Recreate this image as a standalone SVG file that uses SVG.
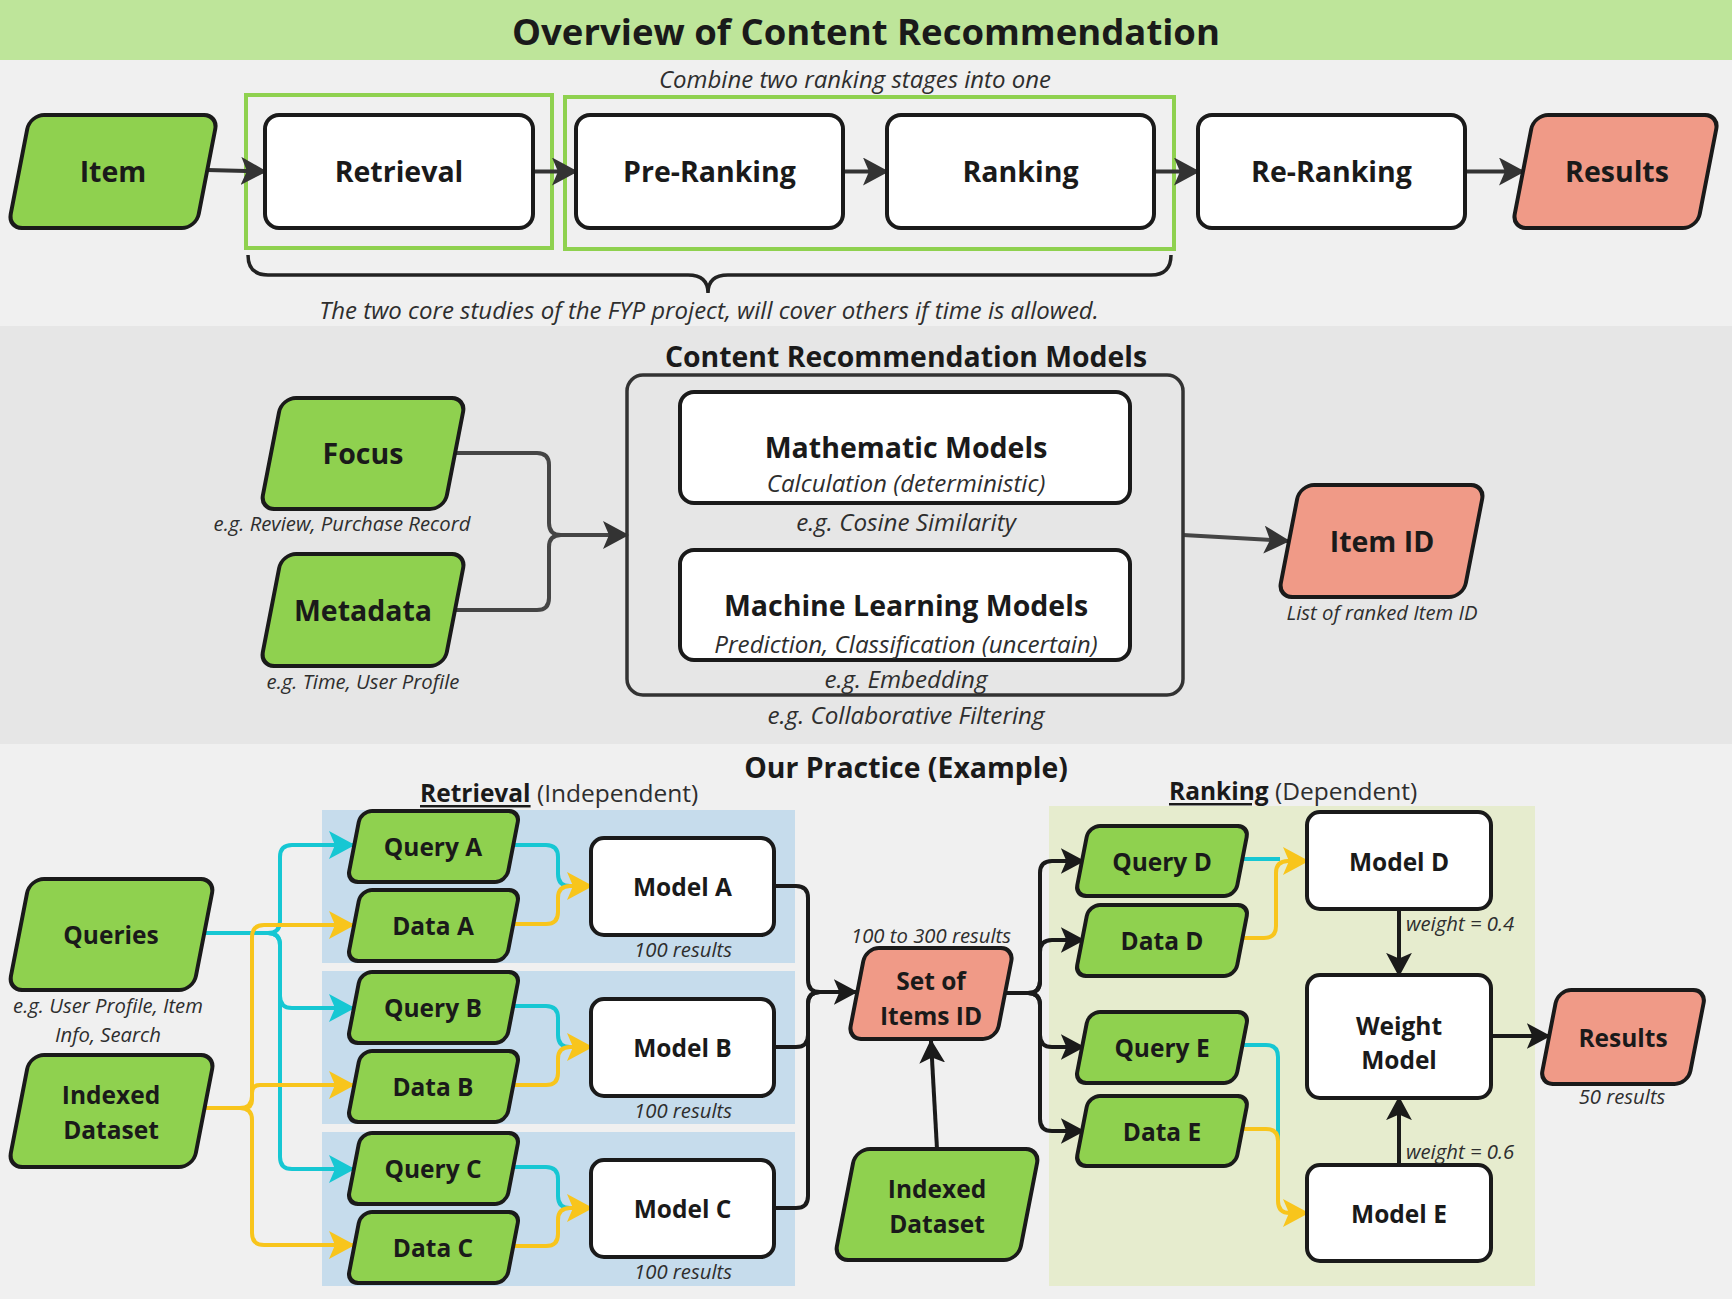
<svg xmlns="http://www.w3.org/2000/svg" width="1732" height="1299" viewBox="0 0 1732 1299">
<defs>
<style>
.b{font-family:"Open Sans","Liberation Sans",sans-serif;font-weight:700;fill:#1a1a1a;text-anchor:middle;dominant-baseline:central}
.i{font-family:"Open Sans","Liberation Sans",sans-serif;font-style:italic;fill:#2e2e2e;text-anchor:middle;dominant-baseline:central}
.r{font-family:"Open Sans","Liberation Sans",sans-serif;fill:#2e2e2e;dominant-baseline:central}
.g{fill:#8fd14f;stroke:#1a1a1a;stroke-width:4}
.s{fill:#f09a87;stroke:#1a1a1a;stroke-width:4}
.w{fill:#ffffff;stroke:#1a1a1a;stroke-width:4}
.c{fill:none;stroke-width:4;stroke-linejoin:round}
.k1{stroke:#333333}
.k2{stroke:#454545}
.k3{stroke:#1a1a1a}
.cy{stroke:#16c7d3}
.ye{stroke:#f8c51c}
</style>
<marker id="ad" viewBox="0 0 26 28" refX="24" refY="14" markerWidth="26" markerHeight="28" markerUnits="userSpaceOnUse" orient="auto"><path d="M0,0 L26,14 L0,28 L6,14 Z" fill="#333333"/></marker>
<marker id="ak" viewBox="0 0 26 28" refX="24" refY="14" markerWidth="24" markerHeight="28" markerUnits="userSpaceOnUse" orient="auto"><path d="M0,0 L26,14 L0,28 L6,14 Z" fill="#1a1a1a"/></marker>
<marker id="ac" viewBox="0 0 26 28" refX="24" refY="14" markerWidth="26" markerHeight="30" markerUnits="userSpaceOnUse" orient="auto"><path d="M0,0 L26,14 L0,28 L6,14 Z" fill="#16c7d3"/></marker>
<marker id="ay" viewBox="0 0 26 28" refX="24" refY="14" markerWidth="26" markerHeight="30" markerUnits="userSpaceOnUse" orient="auto"><path d="M0,0 L26,14 L0,28 L6,14 Z" fill="#f8c51c"/></marker>
</defs>

<!-- backgrounds -->
<rect x="0" y="0" width="1732" height="1299" fill="#f0f0f0"/>
<rect x="0" y="0" width="1732" height="60" fill="#bee59a"/>
<rect x="0" y="326" width="1732" height="418" fill="#e6e6e6"/>
<rect x="322" y="810" width="473" height="153" fill="#c6dcec"/>
<rect x="322" y="971" width="473" height="153" fill="#c6dcec"/>
<rect x="322" y="1132" width="473" height="154" fill="#c6dcec"/>
<rect x="1049" y="806" width="486" height="480" fill="#e6ecce"/>

<!-- titles and free labels -->
<text class="b" x="866" y="31" font-size="36.5">Overview of Content Recommendation</text>
<text class="i" x="855" y="78" font-size="24">Combine two ranking stages into one</text>
<text class="i" x="709" y="309" font-size="24">The two core studies of the FYP project, will cover others if time is allowed.</text>
<text class="b" x="906" y="356" font-size="28.4">Content Recommendation Models</text>
<text class="b" x="906" y="767" font-size="28.4">Our Practice (Example)</text>
<text class="r" x="420" y="792" font-size="24.5"><tspan font-weight="700" fill="#1a1a1a" text-decoration="underline">Retrieval</tspan> (Independent)</text>
<text class="r" x="1169" y="790" font-size="24.5"><tspan font-weight="700" fill="#1a1a1a" text-decoration="underline">Ranking</tspan> (Dependent)</text>

<!-- green grouping boxes and brace -->
<rect x="246" y="95" width="306" height="153" fill="none" stroke="#8fd14f" stroke-width="4"/>
<rect x="565" y="97" width="609" height="152" fill="none" stroke="#8fd14f" stroke-width="4"/>
<path d="M248,255 Q248,275 268,275 L688,275 Q708,275 708,293 Q708,275 728,275 L1151,275 Q1171,275 1171,255" fill="none" stroke="#222222" stroke-width="3.5"/>

<!-- connectors -->
<g id="connectors">
<path class="c k1" d="M207,170 L265,171.5" marker-end="url(#ad)"/>
<path class="c k1" d="M533,171.5 L576,171.5" marker-end="url(#ad)"/>
<path class="c k1" d="M843,171.5 L887,171.5" marker-end="url(#ad)"/>
<path class="c k1" d="M1154,171.5 L1198,171.5" marker-end="url(#ad)"/>
<path class="c k1" d="M1465,171.5 L1523,171.5" marker-end="url(#ad)"/>

<path class="c k2" d="M455,453 L537,453 Q549,453 549,465 L549,523 Q549,535 561,535 L627,535" marker-end="url(#ad)"/>
<path class="c k2" d="M455,610 L537,610 Q549,610 549,598 L549,547 Q549,535 561,535"/>
<path class="c k2" d="M1183,535 L1288,541" marker-end="url(#ad)"/>

<path class="c cy" d="M204,933 L268,933 Q280,933 280,921 L280,857 Q280,845 292,845 L353,845" marker-end="url(#ac)"/>
<path class="c cy" d="M204,933 L268,933 Q280,933 280,945 L280,996 Q280,1008 292,1008 L353,1008" marker-end="url(#ac)"/>
<path class="c cy" d="M204,933 L268,933 Q280,933 280,945 L280,1157 Q280,1169 292,1169 L353,1169" marker-end="url(#ac)"/>
<path class="c ye" d="M204,1108 L240,1108 Q252,1108 252,1096 L252,937 Q252,925 264,925 L353,925" marker-end="url(#ay)"/>
<path class="c ye" d="M204,1108 L244,1108 Q252,1108 252,1100 L252,1093 Q252,1085 260,1085 L353,1085" marker-end="url(#ay)"/>
<path class="c ye" d="M204,1108 L240,1108 Q252,1108 252,1120 L252,1233 Q252,1245 264,1245 L353,1245" marker-end="url(#ay)"/>

<path class="c cy" d="M513,845 L546,845 Q558,845 558,857 L558,874 Q558,886 570,886 L585,886"/>
<path class="c ye" d="M513,924 L546,924 Q558,924 558,912 L558,898 Q558,886 570,886 L591,886" marker-end="url(#ay)"/>
<path class="c cy" d="M513,1006 L546,1006 Q558,1006 558,1018 L558,1035 Q558,1047 570,1047 L585,1047"/>
<path class="c ye" d="M513,1085 L546,1085 Q558,1085 558,1073 L558,1059 Q558,1047 570,1047 L591,1047" marker-end="url(#ay)"/>
<path class="c cy" d="M513,1167 L546,1167 Q558,1167 558,1179 L558,1196 Q558,1208 570,1208 L585,1208"/>
<path class="c ye" d="M513,1246 L546,1246 Q558,1246 558,1234 L558,1220 Q558,1208 570,1208 L591,1208" marker-end="url(#ay)"/>

<path class="c k3" d="M774,886 L796,886 Q808,886 808,898 L808,980 Q808,992 820,992 L856,992" marker-end="url(#ak)"/>
<path class="c k3" d="M774,1047 L796,1047 Q808,1047 808,1035 L808,1004 Q808,992 820,992"/>
<path class="c k3" d="M774,1208 L796,1208 Q808,1208 808,1196 L808,1004 Q808,992 820,992"/>
<path class="c k3" d="M937,1149 L931,1041" marker-end="url(#ak)"/>

<path class="c k3" d="M1005,993 L1028,993 Q1040,993 1040,981 L1040,873 Q1040,861 1052,861 L1083,861" marker-end="url(#ak)"/>
<path class="c k3" d="M1005,993 L1028,993 Q1040,993 1040,981 L1040,952 Q1040,940 1052,940 L1083,940" marker-end="url(#ak)"/>
<path class="c k3" d="M1005,993 L1028,993 Q1040,993 1040,1005 L1040,1035 Q1040,1047 1052,1047 L1083,1047" marker-end="url(#ak)"/>
<path class="c k3" d="M1005,993 L1028,993 Q1040,993 1040,1005 L1040,1119 Q1040,1131 1052,1131 L1083,1131" marker-end="url(#ak)"/>

<path class="c cy" d="M1242,859 L1280,859"/>
<path class="c ye" d="M1242,938 L1264,938 Q1276,938 1276,926 L1276,873 Q1276,861 1288,861 L1307,861" marker-end="url(#ay)"/>
<path class="c cy" d="M1242,1045 L1266,1045 Q1278,1045 1278,1057 L1278,1201"/>
<path class="c ye" d="M1242,1129 L1266,1129 Q1278,1129 1278,1141 L1278,1201 Q1278,1213 1290,1213 L1307,1213" marker-end="url(#ay)"/>

<path class="c k3" d="M1399,909 L1399,975" marker-end="url(#ak)"/>
<path class="c k3" d="M1399,1165 L1399,1098" marker-end="url(#ak)"/>
<path class="c k3" d="M1491,1036 L1549,1036" marker-end="url(#ak)"/>
</g>

<!-- section 1 nodes -->
<g id="item"><rect class="g" x="-94" y="-56.5" width="188" height="113" rx="14" transform="translate(113,171.5) skewX(-11)"/><text class="b" x="113" y="171" font-size="28.5">Item</text></g>
<g id="retrieval"><rect class="w" x="265" y="115" width="268" height="113" rx="14"/><text class="b" x="399" y="171" font-size="28.5">Retrieval</text></g>
<g id="preranking"><rect class="w" x="576" y="115" width="267" height="113" rx="14"/><text class="b" x="709.5" y="171" font-size="28.5">Pre-Ranking</text></g>
<g id="ranking"><rect class="w" x="887" y="115" width="267" height="113" rx="14"/><text class="b" x="1020.5" y="171" font-size="28.5">Ranking</text></g>
<g id="reranking"><rect class="w" x="1198" y="115" width="267" height="113" rx="14"/><text class="b" x="1331.5" y="171" font-size="28.5">Re-Ranking</text></g>
<g id="results-top"><rect class="s" x="-92.5" y="-56.5" width="185" height="113" rx="14" transform="translate(1615.5,171.5) skewX(-11)"/><text class="b" x="1617" y="171" font-size="28.5">Results</text></g>

<!-- section 2 nodes -->
<g id="focus"><rect class="g" x="-92" y="-55.5" width="184" height="111" rx="14" transform="translate(363,453.5) skewX(-11)"/><text class="b" x="363" y="453" font-size="28.5">Focus</text><text class="i" x="342" y="523" font-size="20.3">e.g. Review, Purchase Record</text></g>
<g id="metadata"><rect class="g" x="-92" y="-56" width="184" height="112" rx="14" transform="translate(363,610) skewX(-11)"/><text class="b" x="363" y="610" font-size="28.5">Metadata</text><text class="i" x="363" y="681" font-size="20.3">e.g. Time, User Profile</text></g>
<g id="models">
<rect x="627" y="375" width="556" height="320" rx="16" fill="none" stroke="#333333" stroke-width="3.5"/>
<rect class="w" x="680" y="392" width="450" height="111" rx="14"/>
<text class="b" x="906" y="447" font-size="28.5">Mathematic Models</text>
<text class="i" x="906" y="482.5" font-size="24.2">Calculation (deterministic)</text>
<text class="i" x="906" y="521" font-size="24.2">e.g. Cosine Similarity</text>
<rect class="w" x="680" y="550" width="450" height="110" rx="14"/>
<text class="b" x="906" y="605" font-size="28.5">Machine Learning Models</text>
<text class="i" x="906" y="643" font-size="24.2">Prediction, Classification (uncertain)</text>
<text class="i" x="906" y="678" font-size="24.2">e.g. Embedding</text>
<text class="i" x="906" y="714" font-size="24.2">e.g. Collaborative Filtering</text>
</g>
<g id="itemid"><rect class="s" x="-92.5" y="-56" width="185" height="112" rx="14" transform="translate(1381.5,541) skewX(-11)"/><text class="b" x="1382" y="541" font-size="28.5">Item ID</text><text class="i" x="1382" y="612" font-size="20.3">List of ranked Item ID</text></g>

<!-- section 3 nodes -->
<g id="queries"><rect class="g" x="-92.5" y="-55.5" width="185" height="111" rx="14" transform="translate(111.5,934.5) skewX(-11)"/><text class="b" x="111" y="934" font-size="24.5">Queries</text><text class="i" x="108" y="1005" font-size="20.3">e.g. User Profile, Item</text><text class="i" x="108" y="1034" font-size="20.3">Info, Search</text></g>
<g id="indexed-left"><rect class="g" x="-92.5" y="-56" width="185" height="112" rx="14" transform="translate(111.5,1111) skewX(-11)"/><text class="b" x="111" y="1094" font-size="24.5">Indexed</text><text class="b" x="111" y="1129" font-size="24.5">Dataset</text></g>

<g id="queryA"><rect class="g" x="-79.5" y="-35.5" width="159" height="71" rx="11" transform="translate(433.5,846.5) skewX(-11)"/><text class="b" x="433" y="846" font-size="24.5">Query A</text></g>
<g id="dataA"><rect class="g" x="-79.5" y="-35.5" width="159" height="71" rx="11" transform="translate(433.5,925.5) skewX(-11)"/><text class="b" x="433" y="925" font-size="24.5">Data A</text></g>
<g id="modelA"><rect class="w" x="591" y="838" width="183" height="97" rx="13"/><text class="b" x="682.5" y="886" font-size="24.5">Model A</text><text class="i" x="683" y="949" font-size="20.3">100 results</text></g>
<g id="queryB"><rect class="g" x="-79.5" y="-35.5" width="159" height="71" rx="11" transform="translate(433.5,1007.5) skewX(-11)"/><text class="b" x="433" y="1007" font-size="24.5">Query B</text></g>
<g id="dataB"><rect class="g" x="-79.5" y="-35.5" width="159" height="71" rx="11" transform="translate(433.5,1086.5) skewX(-11)"/><text class="b" x="433" y="1086" font-size="24.5">Data B</text></g>
<g id="modelB"><rect class="w" x="591" y="999" width="183" height="97" rx="13"/><text class="b" x="682.5" y="1047" font-size="24.5">Model B</text><text class="i" x="683" y="1110" font-size="20.3">100 results</text></g>
<g id="queryC"><rect class="g" x="-79.5" y="-35.5" width="159" height="71" rx="11" transform="translate(433.5,1168.5) skewX(-11)"/><text class="b" x="433" y="1168" font-size="24.5">Query C</text></g>
<g id="dataC"><rect class="g" x="-79.5" y="-35.5" width="159" height="71" rx="11" transform="translate(433.5,1247.5) skewX(-11)"/><text class="b" x="433" y="1247" font-size="24.5">Data C</text></g>
<g id="modelC"><rect class="w" x="591" y="1160" width="183" height="97" rx="13"/><text class="b" x="682.5" y="1208" font-size="24.5">Model C</text><text class="i" x="683" y="1271" font-size="20.3">100 results</text></g>

<g id="setitems"><rect class="s" x="-74" y="-45.5" width="148" height="91" rx="13" transform="translate(931,993.5) skewX(-11)"/><text class="b" x="931" y="980" font-size="24.5">Set of</text><text class="b" x="931" y="1015" font-size="24.5">Items ID</text><text class="i" x="931" y="935" font-size="20.3">100 to 300 results</text></g>
<g id="indexed-mid"><rect class="g" x="-92" y="-55.5" width="184" height="111" rx="14" transform="translate(937,1204.5) skewX(-11)"/><text class="b" x="937" y="1188" font-size="24.5">Indexed</text><text class="b" x="937" y="1223" font-size="24.5">Dataset</text></g>

<g id="queryD"><rect class="g" x="-80" y="-35" width="160" height="70" rx="11" transform="translate(1162,861) skewX(-11)"/><text class="b" x="1162" y="861" font-size="24.5">Query D</text></g>
<g id="dataD"><rect class="g" x="-80" y="-35.5" width="160" height="71" rx="11" transform="translate(1162,940.5) skewX(-11)"/><text class="b" x="1162" y="940" font-size="24.5">Data D</text></g>
<g id="queryE"><rect class="g" x="-80" y="-35.5" width="160" height="71" rx="11" transform="translate(1162,1047.5) skewX(-11)"/><text class="b" x="1162" y="1047" font-size="24.5">Query E</text></g>
<g id="dataE"><rect class="g" x="-80" y="-35" width="160" height="70" rx="11" transform="translate(1162,1131) skewX(-11)"/><text class="b" x="1162" y="1131" font-size="24.5">Data E</text></g>
<g id="modelD"><rect class="w" x="1307" y="812" width="184" height="97" rx="13"/><text class="b" x="1399" y="861" font-size="24.5">Model D</text></g>
<g id="weightmodel"><rect class="w" x="1307" y="975" width="184" height="123" rx="13"/><text class="b" x="1399" y="1025" font-size="24.5">Weight</text><text class="b" x="1399" y="1059" font-size="24.5">Model</text></g>
<g id="modelE"><rect class="w" x="1307" y="1165" width="184" height="96" rx="13"/><text class="b" x="1399" y="1213" font-size="24.5">Model E</text></g>
<g id="results-bottom"><rect class="s" x="-74" y="-47" width="148" height="94" rx="13" transform="translate(1623,1037) skewX(-11)"/><text class="b" x="1623" y="1037" font-size="24.5">Results</text><text class="i" x="1622" y="1096" font-size="20.3">50 results</text></g>
<text class="i" x="1406" y="923" font-size="20.3" style="text-anchor:start">weight = 0.4</text>
<text class="i" x="1406" y="1151" font-size="20.3" style="text-anchor:start">weight = 0.6</text>
</svg>
